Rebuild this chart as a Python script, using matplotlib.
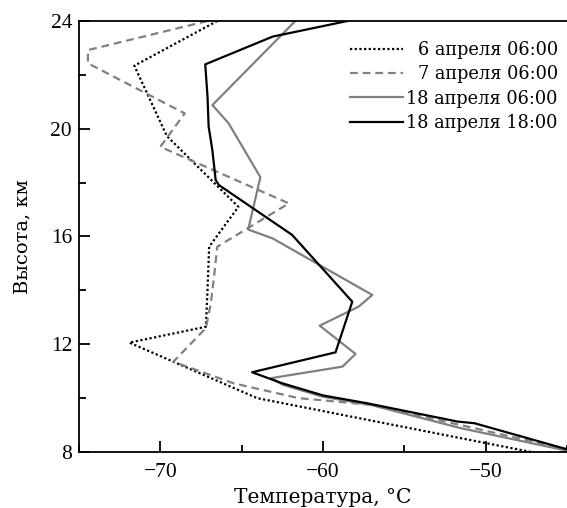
import matplotlib
matplotlib.use("Agg")
import matplotlib.pyplot as plt
from matplotlib.ticker import MultipleLocator

plt.rcParams['font.family'] = ['Liberation Serif', 'DejaVu Serif']
WIDE = ['DejaVu Serif']

labels = ["6 апреля 06:00", "7 апреля 06:00", "18 апреля 06:00", "18 апреля 18:00"]

# 6 April 06:00 (dotted)
t_apr6 = [-66.5, -71.6, -69.6, -65.2, -67.0, -67.1, -67.2, -71.9, -64.05, -47.2]
h_apr6 = [24.0, 22.34, 19.73, 17.1, 15.62, 14.0, 12.65, 12.06, 10.0, 8.0]

# 7 April 06:00 (dashed)
t_apr7 = [-67.1, -74.45, -74.45, -68.5, -70.0, -62.1, -66.5, -66.7, -66.9, -67.2, -69.2, -65.5, -61.5, -57.0, -45.0]
h_apr7 = [24.0, 22.92, 22.43, 20.57, 19.33, 17.23, 15.62, 14.5, 13.5, 12.6, 11.35, 10.55, 10.0, 9.75, 8.1]

# 18 April 06:00 (gray solid)
t_apr18a = [-61.7, -66.8, -65.8, -63.85, -64.6, -63.1, -56.97, -57.8, -60.2, -58.0, -58.8, -63.2, -62.5, -60.0, -57.0, -51.5, -45.0]
h_apr18a = [24.0, 20.88, 20.2, 18.2, 16.26, 15.93, 13.83, 13.4, 12.69, 11.64, 11.17, 10.74, 10.5, 10.05, 9.74, 8.88, 8.05]

# 18 April 18:00 (black solid)
t_apr18b = [-58.5, -63.1, -67.24, -67.1, -67.03, -66.8, -66.6, -66.4, -61.9, -58.2, -59.23, -64.36, -62.5, -60.0, -57.3, -51.73, -50.7, -45.0]
h_apr18b = [24.0, 23.42, 22.39, 21.2, 20.08, 19.2, 18.1, 17.91, 16.06, 13.58, 11.7, 10.96, 10.55, 10.1, 9.81, 9.13, 9.07, 8.1]

fig = plt.figure(figsize=(5.67, 5.08), dpi=100)
ax = fig.add_axes([79/567, 1-452/508, 1-79/567, (452-21)/508])

ax.plot(t_apr6, h_apr6, color='black', lw=1.6, ls=(0, (1, 1.1)), label=labels[0])
ax.plot(t_apr7, h_apr7, color='#808080', lw=1.6, ls=(0, (3.5, 2.2)), label=labels[1])
ax.plot(t_apr18a, h_apr18a, color='#808080', lw=1.6, label=labels[2])
ax.plot(t_apr18b, h_apr18b, color='black', lw=1.6, label=labels[3])

ax.set_xlim(-75, -45)
ax.set_ylim(8, 24)
ax.xaxis.set_major_locator(MultipleLocator(10))
ax.xaxis.set_minor_locator(MultipleLocator(5))
ax.yaxis.set_major_locator(MultipleLocator(4))
ax.yaxis.set_minor_locator(MultipleLocator(2))
ax.tick_params(which='both', direction='in', width=1.3, labelsize=15.5, top=False, right=False)
ax.tick_params(which='major', length=8)
ax.tick_params(which='minor', length=5)
ax.tick_params(axis='x', pad=8)
ax.tick_params(axis='y', pad=5)
ax.spines['right'].set_visible(False)
for s in ['left', 'bottom', 'top']:
    ax.spines[s].set_linewidth(1.3)

ax.set_xlabel("Температура, °C", fontsize=14.5, family=WIDE, labelpad=4)
ax.set_ylabel("Высота, км", fontsize=14, family=WIDE, labelpad=14)

leg = ax.legend(loc='upper right', bbox_to_anchor=(1.003, 0.978), frameon=False,
                prop={'family': WIDE, 'size': 12.8}, handlelength=3.0,
                handletextpad=0.2, labelspacing=0.35, borderaxespad=0.2)
fig.canvas.draw()
renderer = fig.canvas.get_renderer()
texts = leg.get_texts()
widths = [t.get_window_extent(renderer).width for t in texts]
mw = max(widths)
for t, w in zip(texts, widths):
    t.set_position((mw - w, 0))

fig.savefig("out.png", dpi=100)
